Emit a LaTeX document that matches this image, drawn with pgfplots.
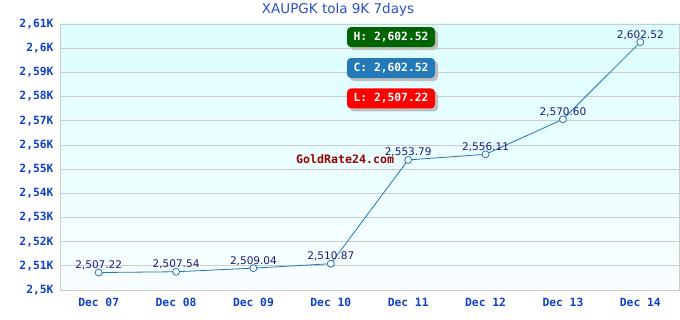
\documentclass[border=0pt]{standalone}
\usepackage{pgfplots}
\pgfplotsset{compat=1.18}
\usepackage{pgfplotstable}
\usepackage{fontspec}
\setmainfont{DejaVu Sans}
\setmonofont{DejaVu Sans Mono}
\definecolor{tickblue}{HTML}{1040C8}
\definecolor{titleblue}{HTML}{2A50C8}
\definecolor{lineblue}{HTML}{1F77B4}
\definecolor{lblnavy}{HTML}{1A1A78}
\definecolor{bgtop}{HTML}{DDFEFF}
\definecolor{bgbot}{HTML}{F8FEFF}
\definecolor{hgreen}{HTML}{006400}
\definecolor{cblue}{HTML}{2479B8}
\definecolor{lred}{HTML}{FF0000}
\definecolor{wmred}{HTML}{990000}
\pgfplotstableread{
x y label
0 2507.22 {2,507.22}
1 2507.54 {2,507.54}
2 2509.04 {2,509.04}
3 2510.87 {2,510.87}
4 2553.79 {2,553.79}
5 2556.11 {2,556.11}
6 2570.60 {2,570.60}
7 2602.52 {2,602.52}
}\datatable
\tikzset{
  shadowbox/.style={fill=black!25, rounded corners=4pt, minimum width=88pt, minimum height=20pt, inner sep=0pt},
  valbox/.style={fill=#1, rounded corners=4pt, minimum width=88pt, minimum height=20pt, inner sep=0pt, text=white, font=\fontsize{11.3}{12}\selectfont\ttfamily\bfseries},
}
\begin{document}
\begin{tikzpicture}[x=1pt,y=1pt]
\path[use as bounding box] (0,0) rectangle (680,320);
\node[font=\fontsize{13.5}{14}\selectfont, text=titleblue] at (338,310) {XAUPGK tola 9K 7days};
\begin{axis}[
  at={(60pt,30pt)}, anchor=south west,
  scale only axis, width=619pt, height=266pt,
  xmin=-0.5, xmax=7.5, ymin=2500, ymax=2610,
  xtick={0,...,7},
  xticklabels={Dec 07,Dec 08,Dec 09,Dec 10,Dec 11,Dec 12,Dec 13,Dec 14},
  ytick={2500,2510,...,2610},
  yticklabels={{2,5K},{2,51K},{2,52K},{2,53K},{2,54K},{2,55K},{2,56K},{2,57K},{2,58K},{2,59K},{2,6K},{2,61K}},
  tick style={draw=none},
  ymajorgrids, grid style={draw=black!20, line width=0.8pt},
  axis line style={draw=black!20, line width=0.8pt},
  axis background/.style={top color=bgtop, bottom color=bgbot},
  ticklabel style={font=\fontsize{11.3}{12}\selectfont\ttfamily\bfseries, text=tickblue},
  yticklabel style={xshift=-3pt},
  xticklabel style={yshift=-5pt},
  clip=false,
]
\addplot[color=lineblue, line width=0.8pt, mark=*, mark size=3.5pt,
  mark options={fill=white, draw=lineblue, line width=0.8pt},
  nodes near coords, point meta=explicit symbolic,
  every node near coord/.append style={font=\fontsize{10.5}{11}\selectfont, text=lblnavy, yshift=-1pt}]
  table[x=x, y=y, meta=label] {\datatable};
\node[font=\fontsize{11.6}{12}\selectfont\ttfamily\bfseries, text=wmred] at (axis cs:3.185,2554.1) {GoldRate24.com};
\node[shadowbox] at ([xshift=3pt,yshift=-3pt]axis cs:3.778,2604.6) {};
\node[valbox=hgreen] at (axis cs:3.778,2604.6) {H: 2,602.52};
\node[shadowbox] at ([xshift=3pt,yshift=-3pt]axis cs:3.778,2591.8) {};
\node[valbox=cblue] at (axis cs:3.778,2591.8) {C: 2,602.52};
\node[shadowbox] at ([xshift=3pt,yshift=-3pt]axis cs:3.778,2579.2) {};
\node[valbox=lred] at (axis cs:3.778,2579.2) {L: 2,507.22};
\end{axis}
\end{tikzpicture}
\end{document}
